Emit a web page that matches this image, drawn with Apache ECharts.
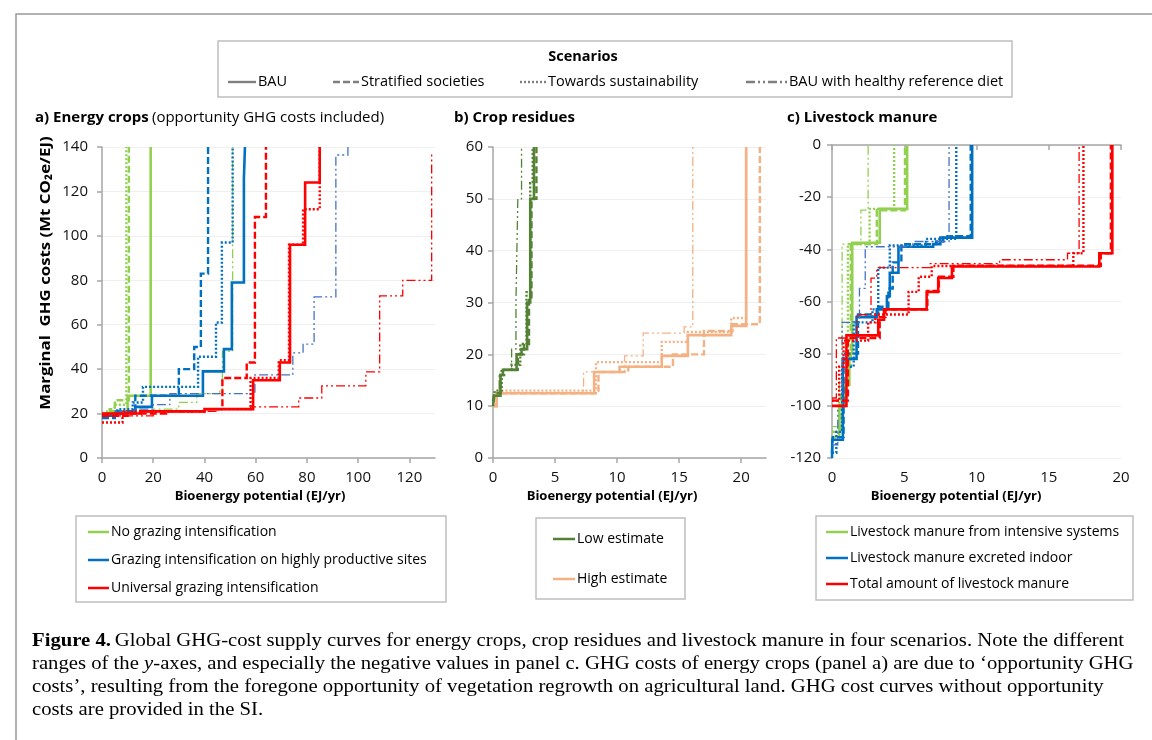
<!DOCTYPE html>
<html><head><meta charset="utf-8">
<script src="https://cdn.jsdelivr.net/npm/echarts@6/dist/echarts.min.js"></script>
<style>html,body{margin:0;padding:0;background:#fff}#c{width:1152px;height:740px}</style>
</head><body><div id="c"></div><script>
// ---------- DATA (x: EJ/yr, y: Mt CO2e/EJ), supply-curve breakpoints ----------
// Panel a: energy crops
const aNoGrazBAU = [[0,20],[4,21],[10,28],[19,140]];
const aNoGrazSS  = [[0,19],[3,22],[5,26],[10.5,140]];
const aNoGrazTS  = [[0,19],[2,21],[5,24],[9.5,140]];
const aNoGrazHD  = [[0,20],[8,21],[20,22],[30,25],[37,29],[46,31],[47,48],[51,140]];
const aGrazHpBAU = [[0,19],[5,20],[10,21],[13,23],[19.5,28],[39.4,39],[47.6,49],[50.7,79],[55.4,126],[55.8,140]];
const aGrazHpSS  = [[0,18],[5,21],[13,28],[30,40],[36,50],[38.6,83],[41.4,140]];
const aGrazHpTS  = [[0,19],[6,22],[12,25],[16,32],[37.5,45.6],[44.5,61],[46.8,97],[51,140]];
const aGrazHpHD  = [[0,19],[5,21],[12,22],[20,24],[26.5,29],[59.7,37.4],[74.5,47.3],[78.5,51.3],[82.8,72.5],[91.3,136.4],[96,140]];
const aUnivBAU   = [[0,20],[15,21],[40,22],[59,35],[69.4,43],[73.4,96],[79.3,124],[85,140]];
const aUnivSS    = [[0,19],[10,20],[25,21],[40,22],[47,36],[56.5,43],[59.7,108.5],[64,140]];
const aUnivTS    = [[0,16],[8,21],[40,22],[58,36],[69,44],[73,96],[78.5,112],[85,140]];
const aUnivHD    = [[0,19],[20,21],[45,22],[58,23],[76.8,27],[85.8,32.5],[103,38.8],[108.4,73],[117.4,80],[128.7,138]];
// Panel b: crop residues
const bLowBAU  = [[0,10],[0.1,12],[0.6,16],[0.8,17],[1.9,20],[2.3,21],[2.75,30],[3.0,50],[3.3,60]];
const bLowSS   = [[0,11],[0.1,12.5],[0.6,16],[0.9,17],[2.0,20],[2.5,22],[2.9,31],[3.1,50],[3.5,60]];
const bLowTS   = [[0,11],[0.15,13],[0.7,17],[1.5,18],[2.2,22],[2.7,32],[3.0,53],[3.2,60]];
const bLowHD   = [[0,10],[0.1,12],[0.5,16],[0.8,17],[1.5,21],[1.85,30],[2.0,50],[2.3,60]];
const bHighBAU = [[0,10],[0.3,12.5],[8.15,16.6],[10.2,17.6],[13.6,19.7],[15.7,23.7],[19.2,25.5],[20.4,60]];
const bHighSS  = [[0,10],[0.3,12.5],[8.5,16.6],[10.9,17.6],[14.5,20],[17,24.5],[19.3,25.8],[21.5,60]];
const bHighTS  = [[0,10],[0.3,13],[8.3,18.5],[13.6,22.4],[15.7,24.3],[19.2,27],[20.4,60]];
const bHighHD  = [[0,10],[0.3,12.5],[7.3,16.6],[10.6,19.7],[12.1,24.1],[15.4,25.3],[16.1,60]];
// Panel c: livestock manure
const cIntBAU = [[0,-112],[0.5,-100],[0.9,-92],[1.2,-80],[1.4,-37.5],[3.3,-24.5],[5.2,0]];
const cIntSS  = [[0,-110],[0.6,-95],[1.0,-85],[1.3,-38],[3.1,-25],[5.05,0]];
const cIntTS  = [[0,-110],[0.5,-98],[0.8,-90],[1.1,-38],[2.6,-24.5],[4.3,0]];
const cIntHD  = [[0,-108],[0.5,-90],[0.7,-38],[2.0,-25],[2.5,0]];
const cIndBAU = [[0,-120],[0.02,-113],[0.75,-82],[1.7,-66],[3.1,-63],[3.8,-58],[4.0,-49],[4.6,-39],[7.0,-38],[7.5,-35.5],[9.7,0]];
const cIndSS  = [[0,-118],[0.05,-112],[0.8,-80],[1.8,-65],[3.2,-62],[3.9,-55],[4.2,-45],[4.8,-38],[7.2,-37],[7.7,-35],[9.6,0]];
const cIndTS  = [[0,-118],[0.3,-110],[0.7,-85],[1.5,-68],[2.8,-63],[3.2,-47],[4.0,-38.5],[6.5,-36],[8.6,0]];
const cIndHD  = [[0,-115],[0.4,-100],[0.7,-68],[1.9,-55],[2.3,-39],[5.6,-37],[8.1,0]];
const cTotBAU = [[0,-100],[1.0,-73],[3.2,-67],[3.6,-63],[6.55,-56.3],[7.35,-51],[8.3,-46.6],[18.5,-41.5],[19.4,0]];
const cTotSS  = [[0,-98],[1.1,-74],[3.3,-66],[3.7,-63],[6.6,-56],[7.4,-50.5],[8.4,-46.3],[18.6,-41.5],[19.3,0]];
const cTotTS  = [[0,-98],[0.5,-85],[0.8,-75],[2.5,-68],[3.0,-65],[5.3,-56.3],[6.0,-50.5],[6.9,-46.4],[16.7,-41.5],[17.4,0]];
const cTotHD  = [[0,-97],[0.3,-74],[1.7,-65],[2.7,-51],[3.1,-47],[6.8,-45.5],[11.6,-44],[16.3,-41.5],[17.1,0]];
// Tick values
const aXTicks = [0,20,40,60,80,100,120];
const bXTicks = [0,5,10,15,20];
const cXTicks = [0,5,10,15,20];
// Legend texts
const scenarioNames = ['BAU','Stratified societies','Towards sustainability','BAU with healthy reference diet'];
const aLegend = ['No grazing intensification','Grazing intensification on highly productive sites','Universal grazing intensification'];
const bLegend = ['Low estimate','High estimate'];
const cLegend = ['Livestock manure from intensive systems','Livestock manure excreted indoor','Total amount of livestock manure'];

// ---------- STYLE ----------
const FONT = '"Open Sans", sans-serif';
const GREEN='#92D050', BLUE='#0070C0', RED='#FF0000', SLATE='#4472C4', DKGREEN='#548235', PEACH='#F4B183';
const STY = {
  BAU:{type:'solid', width:2.6},
  SS:{type:[7,3], width:2.4},
  TS:{type:[2,2], width:2.4},
  HD:{type:[9,3,2,3,2,3], width:1.3}
};
function ser(data, color, kind, g){
  const st = STY[kind];
  return {type:'line', step:'end', data:data, xAxisIndex:g, yAxisIndex:g, symbol:'none', showSymbol:false,
    silent:true, animation:false, clip:true,
    lineStyle:{color:color, width:st.width, type:st.type, cap:'butt', join:'miter'}};
}
const series = [
  ser(aNoGrazBAU,GREEN,'BAU',0), ser(aNoGrazSS,GREEN,'SS',0), ser(aNoGrazTS,GREEN,'TS',0), ser(aNoGrazHD,GREEN,'HD',0),
  ser(aGrazHpBAU,BLUE,'BAU',0), ser(aGrazHpSS,BLUE,'SS',0), ser(aGrazHpTS,BLUE,'TS',0), ser(aGrazHpHD,SLATE,'HD',0),
  ser(aUnivBAU,RED,'BAU',0), ser(aUnivSS,RED,'SS',0), ser(aUnivTS,RED,'TS',0), ser(aUnivHD,RED,'HD',0),
  ser(bHighBAU,PEACH,'BAU',1), ser(bHighSS,PEACH,'SS',1), ser(bHighTS,PEACH,'TS',1), ser(bHighHD,PEACH,'HD',1),
  ser(bLowBAU,DKGREEN,'BAU',1), ser(bLowSS,DKGREEN,'SS',1), ser(bLowTS,DKGREEN,'TS',1), ser(bLowHD,DKGREEN,'HD',1),
  ser(cIntBAU,GREEN,'BAU',2), ser(cIntSS,GREEN,'SS',2), ser(cIntTS,GREEN,'TS',2), ser(cIntHD,GREEN,'HD',2),
  ser(cIndBAU,BLUE,'BAU',2), ser(cIndSS,BLUE,'SS',2), ser(cIndTS,BLUE,'TS',2), ser(cIndHD,SLATE,'HD',2),
  ser(cTotBAU,RED,'BAU',2), ser(cTotSS,RED,'SS',2), ser(cTotTS,RED,'TS',2), ser(cTotHD,RED,'HD',2)
];

const AX='#A6A6A6';
const lbl = (m)=>({fontFamily:FONT, fontSize:15, color:'#111', margin:m});
function xAx(g, max, interval, ticks, opt){
  return Object.assign({type:'value', gridIndex:g, min:0, max:max, interval:interval,
    axisLine:{show:true, onZero:false, lineStyle:{color:AX, width:1.5}},
    axisTick:{show:true, length:5, lineStyle:{color:AX, width:1.5}, customValues:ticks},
    axisLabel:Object.assign(lbl(12), {customValues:ticks}),
    splitLine:{show:false}}, opt||{});
}
function yAx(g, min, max, interval, m){
  return {type:'value', gridIndex:g, min:min, max:max, interval:interval,
    axisLine:{show:true, onZero:false, lineStyle:{color:AX, width:1.5}},
    axisTick:{show:true, length:5, lineStyle:{color:AX, width:1.5}},
    axisLabel:lbl(m),
    splitLine:{show:true, lineStyle:{color:'#EFEFEF', width:1}}};
}

const xAxis = [
  xAx(0,130,20,aXTicks),
  xAx(1,22,5,bXTicks),
  xAx(2,20,5,cXTicks,{axisLine:{show:false}, axisTick:{show:false}}),
  xAx(2,20,5,cXTicks,{position:'top', axisLabel:{show:false},
     axisTick:{show:true, inside:true, length:5, lineStyle:{color:AX, width:1.5}, customValues:cXTicks}})
];
const yAxis = [ yAx(0,0,140,20,14), yAx(1,0,60,10,10), yAx(2,-120,0,20,11) ];

// ---------- GRAPHICS (frame, titles, legends, caption) ----------
const G = [];
const txt = (x,y,text,opt,extra)=>G.push(Object.assign({type:'text', x:x, y:y, silent:true, style:Object.assign({text:text, fill:'#000', font:'14px '+FONT, textAlign:'left', textVerticalAlign:'middle'}, opt||{})}, extra||{}));
const ln = (x1,y1,x2,y2,stroke,w,dash)=>G.push({type:'line', silent:true, shape:{x1:x1,y1:y1,x2:x2,y2:y2}, style:{stroke:stroke, lineWidth:w, lineDash:dash||null}});
const box = (x,y,w,h)=>G.push({type:'rect', silent:true, shape:{x:x,y:y,width:w,height:h}, style:{fill:'none', stroke:'#BFBFBF', lineWidth:1.5}});

// outer frame
G.push({type:'polyline', silent:true, shape:{points:[[16,760],[16,14],[1160,14]]}, style:{fill:'none', stroke:'#999', lineWidth:1.5}});

// scenarios legend
box(218,41,794,56);
txt(583,57,'Scenarios',{font:'bold 14.5px '+FONT, textAlign:'center'});
const scX = [[228,256],[333,359],[520,546],[746,787]];
const scDash = [null,[7,3],[2,2],[9,3,2,3,2,3]];
scenarioNames.forEach((n,i)=>{
  ln(scX[i][0],82,scX[i][1],82,'#7F7F7F',2.4,scDash[i]);
  txt(scX[i][1]+2,82,n,{font:'14.5px '+FONT});
});

// panel titles
G.push({type:'text', x:35, y:118, silent:true, style:{text:'{b|a) Energy crops} {n|(opportunity GHG costs included)}', textVerticalAlign:'middle',
  rich:{b:{font:'bold 15px '+FONT, fill:'#000'}, n:{font:'15px '+FONT, fill:'#000'}}}});
txt(454,118,'b) Crop residues',{font:'bold 15px '+FONT});
txt(787,118,'c) Livestock manure',{font:'bold 15px '+FONT});

// axis titles
[260,612,956].forEach(cx=>txt(cx,496,'Bioenergy potential (EJ/yr)',{font:'bold 13px '+FONT, textAlign:'center'}));
G.push({type:'text', x:46, y:273, rotation:Math.PI/2, scaleX:1.12, silent:true,
  style:{text:'Marginal  GHG costs (Mt CO\u2082e/EJ)', font:'bold 15px '+FONT, fill:'#000', textAlign:'center', textVerticalAlign:'middle'}});

// bottom legends
box(76,516,370,86);
[GREEN,BLUE,RED].forEach((c,i)=>{ const y=532+28*i; ln(88,y,109,y,c,2.5); txt(111,y,aLegend[i]); });
box(536,518,149,81);
[DKGREEN,PEACH].forEach((c,i)=>{ const y=539+40*i; ln(553,y,575,y,c,2.5); txt(577,y,bLegend[i]); });
box(816,516,317,84);
[GREEN,BLUE,RED].forEach((c,i)=>{ const y=532+26*i; ln(826,y,848,y,c,2.5); txt(850,y,cLegend[i]); });

// caption
const SERIF = '"Liberation Serif", "Times New Roman", serif';
const capRich = {b:{font:'bold 18px '+SERIF, fill:'#000'}, n:{font:'18px '+SERIF, fill:'#000'}, i:{font:'italic 18px '+SERIF, fill:'#000'}};
const capLines = [
  '{b|Figure 4.} {n|Global GHG-cost supply curves for energy crops, crop residues and livestock manure in four scenarios. Note the different}',
  '{n|ranges of the }{i|y}{n|-axes, and especially the negative values in panel c. GHG costs of energy crops (panel a) are due to \u2018opportunity GHG}',
  '{n|costs\u2019, resulting from the foregone opportunity of vegetation regrowth on agricultural land. GHG cost curves without opportunity}',
  '{n|costs are provided in the SI.}'
];
capLines.forEach((t,i)=>G.push({type:'text', x:32, y:641+23*i, scaleX:1.15, silent:true, style:{text:t, textVerticalAlign:'middle', rich:capRich}}));

const chart = echarts.init(document.getElementById('c'), null, {renderer:'canvas'});
chart.setOption({
  animation:false,
  backgroundColor:'#fff',
  grid:[
    {left:102, top:147, width:333, height:311},
    {left:493, top:147, width:273, height:311},
    {left:832, top:145, width:289, height:313}
  ],
  xAxis:xAxis,
  yAxis:yAxis,
  series:series,
  graphic:G
});
</script></body></html>
